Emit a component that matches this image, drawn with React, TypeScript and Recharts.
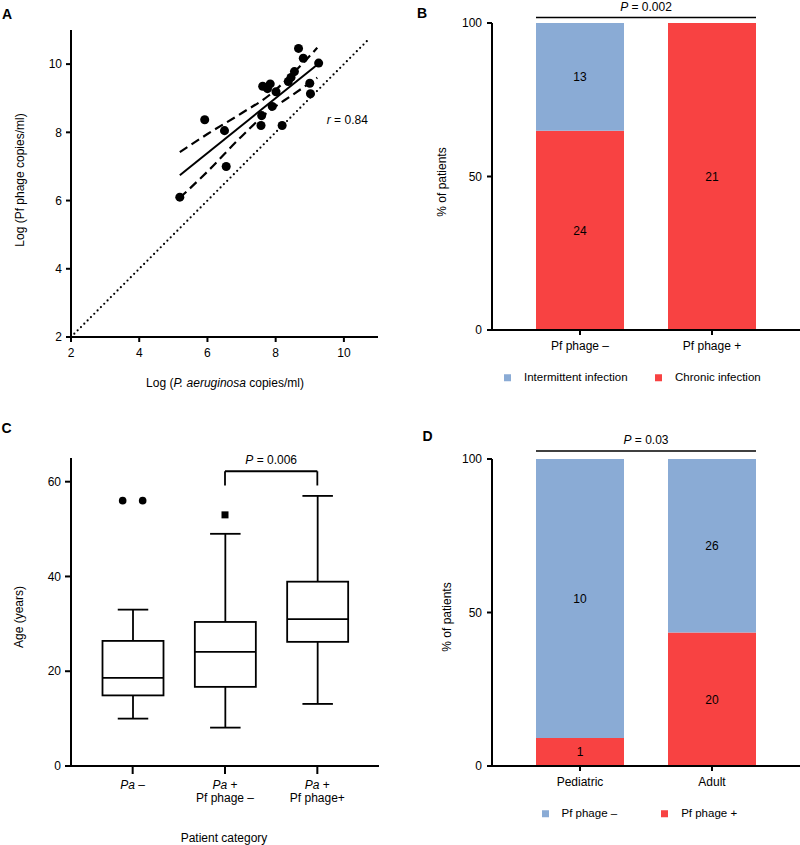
import React from 'react';
import {
  ComposedChart,
  Scatter,
  Line,
  Bar,
  XAxis,
  YAxis,
  LabelList,
  ReferenceLine,
  ReferenceDot,
} from 'recharts';

const FONT = '"Liberation Sans", Arial, Helvetica, sans-serif';
const BLUE = '#8aabd5';
const RED = '#f84242';

// A: log copies per sputum sample
const paLog = [5.19, 5.92, 6.5, 6.55, 7.57, 7.59, 7.62, 7.84, 7.76, 7.9, 8.01, 8.19, 8.37, 8.45, 8.55, 8.67, 8.81, 9.0, 9.02, 9.26];
const pfLog = [6.1, 8.37, 8.05, 7.0, 8.2, 8.49, 9.35, 9.42, 9.28, 8.76, 9.19, 8.2, 9.49, 9.61, 9.78, 10.46, 10.17, 9.44, 9.13, 10.03];
const fitX = [5.19, 9.3];
const fitY = [6.74, 10.05];
const bandX = [5.19, 6, 7, 7.8, 8.5, 9.22];
const bandUpper = [7.42, 7.95, 8.56, 9.08, 9.72, 10.48];
const bandLower = [6.08, 6.85, 7.88, 8.62, 9.1, 9.6];
const identityX = [2, 10.75];
const logTicks = [2, 4, 6, 8, 10];

// B: infection type by phage status
const phageGroups = ['Pf phage –', 'Pf phage +'];
const intermittent = [13, 0];
const chronic = [24, 21];

// C: age by patient category
const ageGroups = ['Pa –', 'Pa + Pf phage –', 'Pa + Pf phage+'];
const paSign = ['–', '+', '+'];
const pfLine = ['', 'Pf phage –', 'Pf phage+'];
const ageMin = [10, 8.1, 13.1];
const ageQ1 = [14.9, 16.7, 26.2];
const ageMedian = [18.6, 24.1, 31.0];
const ageQ3 = [26.4, 30.4, 38.9];
const ageMax = [33, 49, 57];
const outlierGroup = [0, 0, 1];
const outlierAge = [56, 56, 53];
const ageTicks = [0, 20, 40, 60];

// D: phage status by age class
const ageClasses = ['Pediatric', 'Adult'];
const pfNeg = [10, 26];
const pfPos = [1, 20];

const pctTicks = [0, 50, 100];

const scatterData = paLog.map((x, i) => ({ x, y: pfLog[i] }));
const fitData = fitX.map((x, i) => ({ x, y: fitY[i] }));
const upperData = bandX.map((x, i) => ({ x, y: bandUpper[i] }));
const lowerData = bandX.map((x, i) => ({ x, y: bandLower[i] }));
const identityData = identityX.map((x) => ({ x, y: x }));

const infectionData = phageGroups.map((group, i) => {
  const total = intermittent[i] + chronic[i];
  return {
    group,
    chronic: chronic[i],
    intermittent: intermittent[i],
    chronicPct: (chronic[i] / total) * 100,
    intermittentPct: (intermittent[i] / total) * 100,
  };
});

const boxData = ageGroups.map((group, i) => ({
  group,
  min: ageMin[i],
  q1: ageQ1[i],
  median: ageMedian[i],
  q3: ageQ3[i],
  max: ageMax[i],
  range: [ageMin[i], ageMax[i]],
}));

const outlierData = outlierAge.map((age, i) => ({ group: ageGroups[outlierGroup[i]], age }));

const phageByAge = ageClasses.map((group, i) => {
  const total = pfNeg[i] + pfPos[i];
  return {
    group,
    neg: pfNeg[i],
    pos: pfPos[i],
    negPct: (pfNeg[i] / total) * 100,
    posPct: (pfPos[i] / total) * 100,
  };
});

const axisLine = { stroke: '#000', strokeWidth: 2 };
const tickLine = { stroke: '#000', strokeWidth: 2 };
const tickStyle = { fill: '#000', fontSize: 12, fontFamily: FONT };
const hideZero = (v: any) => (v ? v : '');

// outlier markers differ per group (GraphPad style)
const outlierMarker: Record<string, string> = {
  [ageGroups[0]]: 'circle',
  [ageGroups[1]]: 'square',
  [ageGroups[2]]: 'triangle',
};

function Caption({ x, y, rotate, bold, size, children }: any) {
  return (
    <div
      style={{
        position: 'absolute',
        left: x,
        top: y,
        transform: `translate(-50%, -50%)${rotate ? ' rotate(-90deg)' : ''}`,
        whiteSpace: 'nowrap',
        fontSize: size ?? 12,
        fontWeight: bold ? 700 : 400,
        lineHeight: 1,
      }}
    >
      {children}
    </div>
  );
}

function SwatchLegend({ items, left, y, gap }: any) {
  return (
    <div
      style={{
        position: 'absolute',
        left,
        top: y,
        transform: 'translateY(-50%)',
        display: 'flex',
        alignItems: 'center',
        gap,
        fontSize: 11.5,
        lineHeight: 1,
        whiteSpace: 'nowrap',
      }}
    >
      {items.map((it: any) => (
        <div key={it.label} style={{ display: 'flex', alignItems: 'center' }}>
          <span style={{ width: 7, height: 7, background: it.color, marginRight: 13, display: 'inline-block' }} />
          {it.label}
        </div>
      ))}
    </div>
  );
}

function PValueLine(props: any) {
  const { x1, y1, x2, y2, text, extend = 0, width = 1.5, gap = 7.5 } = props;
  return (
    <g>
      <line x1={x1 - extend} x2={x2 + extend} y1={y1} y2={y2} stroke="#000" strokeWidth={width} />
      <text x={(x1 + x2) / 2} y={y1 - gap} textAnchor="middle" fontSize={12} fill="#000">
        <tspan fontStyle="italic">P</tspan> = {text}
      </text>
    </g>
  );
}

function BoxShape(props: any) {
  const { x, y, width, height, payload } = props;
  const top = Math.min(y, y + height);
  const bottom = Math.max(y, y + height);
  const per = (bottom - top) / (payload.max - payload.min);
  const py = (v: number) => bottom - (v - payload.min) * per;
  const cx = x + width / 2;
  const cap = width / 4;
  return (
    <g stroke="#000" strokeWidth={1.8} fill="none">
      <line x1={cx} x2={cx} y1={py(payload.max)} y2={py(payload.q3)} />
      <line x1={cx} x2={cx} y1={py(payload.q1)} y2={py(payload.min)} />
      <line x1={cx - cap} x2={cx + cap} y1={py(payload.max)} y2={py(payload.max)} />
      <line x1={cx - cap} x2={cx + cap} y1={py(payload.min)} y2={py(payload.min)} />
      <rect x={x} y={py(payload.q3)} width={width} height={py(payload.q1) - py(payload.q3)} fill="#fff" />
      <line x1={x} x2={x + width} y1={py(payload.median)} y2={py(payload.median)} />
    </g>
  );
}

function OutlierShape(props: any) {
  const { cx, cy, payload } = props;
  const same = outlierData.filter((d) => d.group === payload.group && d.age === payload.age);
  const k = same.findIndex((d) => d === payload || (d.group === payload.group && d.age === payload.age && same.indexOf(d) >= 0 && props.index === outlierData.indexOf(d)));
  const offset = ((k < 0 ? 0 : k) - (same.length - 1) / 2) * 20;
  const kind = outlierMarker[payload.group];
  if (kind === 'square') {
    return <rect x={cx + offset - 3.5} y={cy - 3.5} width={7} height={7} fill="#000" />;
  }
  return <circle cx={cx + offset} cy={cy} r={3.8} fill="#000" />;
}

function GroupTick({ x, y, payload }: any) {
  const i = ageGroups.indexOf(payload.value);
  return (
    <text x={x} y={y} textAnchor="middle" fontSize={12} fill="#000">
      <tspan x={x} dy="0.71em">
        <tspan fontStyle="italic">Pa</tspan> {paSign[i]}
      </tspan>
      {pfLine[i] ? (
        <tspan x={x} dy="1.1em">
          {pfLine[i]}
        </tspan>
      ) : null}
    </text>
  );
}

function CorrelationPanel() {
  return (
    <ComposedChart width={400} height={400} margin={{ top: 30, right: 22, bottom: 33, left: 31 }}>
      <XAxis
        type="number"
        dataKey="x"
        domain={[2, 11]}
        ticks={logTicks}
        allowDataOverflow
        height={30}
        tickSize={5}
        tickMargin={6}
        axisLine={axisLine}
        tickLine={tickLine}
        tick={tickStyle}
      />
      <YAxis
        type="number"
        dataKey="y"
        domain={[2, 11]}
        ticks={logTicks}
        allowDataOverflow
        width={40}
        tickSize={5}
        tickMargin={4}
        axisLine={axisLine}
        tickLine={tickLine}
        tick={tickStyle}
      />
      <Line
        data={identityData}
        dataKey="y"
        type="linear"
        stroke="#000"
        strokeWidth={2.2}
        strokeDasharray="0 4.7"
        strokeLinecap="round"
        dot={false}
        activeDot={false}
        isAnimationActive={false}
      />
      <Line
        data={upperData}
        dataKey="y"
        type="monotone"
        stroke="#000"
        strokeWidth={2.2}
        strokeDasharray="9 5"
        dot={false}
        activeDot={false}
        isAnimationActive={false}
      />
      <Line
        data={lowerData}
        dataKey="y"
        type="monotone"
        stroke="#000"
        strokeWidth={2.2}
        strokeDasharray="9 5"
        dot={false}
        activeDot={false}
        isAnimationActive={false}
      />
      <Line
        data={fitData}
        dataKey="y"
        type="linear"
        stroke="#000"
        strokeWidth={2}
        dot={false}
        activeDot={false}
        isAnimationActive={false}
      />
      <Scatter data={scatterData} fill="#000" isAnimationActive={false} />
      <ReferenceDot
        x={10.1}
        y={8.37}
        r={0}
        ifOverflow="visible"
        shape={(p: any) => (
          <text x={p.cx} y={p.cy} dy="0.35em" textAnchor="middle" fontSize={12} fill="#000">
            <tspan fontStyle="italic">r</tspan> = 0.84
          </text>
        )}
      />
    </ComposedChart>
  );
}

function StackedPanel({ data, groups, lowKey, lowCount, highKey, highCount, pText, pLevel, pGap, height, top, bottom }: any) {
  return (
    <ComposedChart width={400} height={height} data={data} margin={{ top, right: 0, bottom, left: 52 }}>
      <XAxis
        dataKey="group"
        type="category"
        padding={{ left: 22, right: 22 }}
        height={30}
        tickSize={5}
        tickMargin={6}
        interval={0}
        axisLine={axisLine}
        tickLine={tickLine}
        tick={tickStyle}
      />
      <YAxis
        domain={[0, 100]}
        ticks={pctTicks}
        width={40}
        tickSize={5}
        tickMargin={5}
        axisLine={axisLine}
        tickLine={tickLine}
        tick={tickStyle}
      />
      <Bar dataKey={lowKey} stackId="s" fill={RED} barSize={88} isAnimationActive={false}>
        <LabelList dataKey={lowCount} position="center" formatter={hideZero} fill="#000" fontSize={12} />
      </Bar>
      <Bar dataKey={highKey} stackId="s" fill={BLUE} barSize={88} isAnimationActive={false}>
        <LabelList dataKey={highCount} position="center" formatter={hideZero} fill="#000" fontSize={12} />
      </Bar>
      <ReferenceLine
        segment={[
          { x: groups[0], y: pLevel },
          { x: groups[1], y: pLevel },
        ]}
        ifOverflow="visible"
        shape={(p: any) => <PValueLine {...p} text={pText} extend={44} gap={pGap} />}
      />
    </ComposedChart>
  );
}

function AgePanel() {
  const bracketTop = 62.2;
  const bracketLow = 59.2;
  return (
    <ComposedChart width={400} height={435} data={boxData} margin={{ top: 48, right: 21, bottom: 39, left: 31 }}>
      <XAxis
        dataKey="group"
        type="category"
        allowDuplicatedCategory={false}
        padding={{ left: 15.5, right: 15.5 }}
        height={40}
        tickSize={8}
        tickMargin={6}
        interval={0}
        axisLine={axisLine}
        tickLine={tickLine}
        tick={<GroupTick />}
      />
      <YAxis
        domain={[0, 65]}
        ticks={ageTicks}
        width={40}
        tickSize={6}
        tickMargin={4}
        axisLine={axisLine}
        tickLine={tickLine}
        tick={tickStyle}
      />
      <Bar dataKey="range" barSize={61} shape={<BoxShape />} isAnimationActive={false} />
      <Scatter data={outlierData} dataKey="age" shape={<OutlierShape />} isAnimationActive={false} />
      <ReferenceLine
        segment={[
          { x: ageGroups[1], y: bracketLow },
          { x: ageGroups[1], y: bracketTop },
        ]}
        stroke="#000"
        strokeWidth={1.8}
      />
      <ReferenceLine
        segment={[
          { x: ageGroups[2], y: bracketLow },
          { x: ageGroups[2], y: bracketTop },
        ]}
        stroke="#000"
        strokeWidth={1.8}
      />
      <ReferenceLine
        segment={[
          { x: ageGroups[1], y: bracketTop },
          { x: ageGroups[2], y: bracketTop },
        ]}
        shape={(p: any) => <PValueLine {...p} text="0.006" width={1.8} gap={7} />}
      />
    </ComposedChart>
  );
}

export default function App() {
  return (
    <div
      style={{
        position: 'absolute',
        left: 0,
        top: 0,
        width: 800,
        height: 845,
        background: '#fff',
        fontFamily: FONT,
        color: '#000',
        overflow: 'hidden',
      }}
    >
      <div style={{ position: 'absolute', left: 0, top: 0 }}>
        <CorrelationPanel />
      </div>
      <div style={{ position: 'absolute', left: 400, top: 0 }}>
        <StackedPanel
          data={infectionData}
          groups={phageGroups}
          lowKey="chronicPct"
          lowCount="chronic"
          highKey="intermittentPct"
          highCount="intermittent"
          pText="0.002"
          pLevel={101.8}
          pGap={6.5}
          height={400}
          top={23}
          bottom={40}
        />
      </div>
      <div style={{ position: 'absolute', left: 0, top: 410 }}>
        <AgePanel />
      </div>
      <div style={{ position: 'absolute', left: 400, top: 410 }}>
        <StackedPanel
          data={phageByAge}
          groups={ageClasses}
          lowKey="posPct"
          lowCount="pos"
          highKey="negPct"
          highCount="neg"
          pText="0.03"
          pLevel={102.6}
          pGap={7.5}
          height={435}
          top={49}
          bottom={49}
        />
      </div>

      <Caption x={7} y={14} bold size={14}>A</Caption>
      <Caption x={422} y={12.5} bold size={14}>B</Caption>
      <Caption x={6.5} y={427.5} bold size={14}>C</Caption>
      <Caption x={427.5} y={435.5} bold size={14}>D</Caption>

      <Caption x={20} y={180} rotate>Log (Pf phage copies/ml)</Caption>
      <Caption x={225} y={383}>
        Log (<i>P. aeruginosa</i> copies/ml)
      </Caption>
      <Caption x={442} y={182} rotate>% of patients</Caption>
      <Caption x={18.5} y={617} rotate>Age (years)</Caption>
      <Caption x={224} y={838}>Patient category</Caption>
      <Caption x={446.5} y={617} rotate>% of patients</Caption>

      <SwatchLegend
        left={504}
        y={378}
        gap={27.5}
        items={[
          { label: 'Intermittent infection', color: BLUE },
          { label: 'Chronic infection', color: RED },
        ]}
      />
      <SwatchLegend
        left={541.5}
        y={814}
        gap={44}
        items={[
          { label: 'Pf phage –', color: BLUE },
          { label: 'Pf phage +', color: RED },
        ]}
      />
    </div>
  );
}
